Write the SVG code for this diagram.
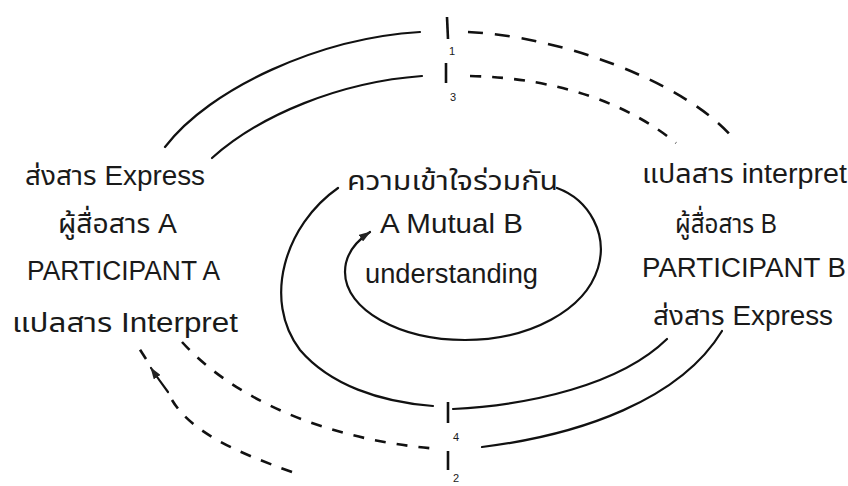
<svg xmlns="http://www.w3.org/2000/svg" width="848" height="486" viewBox="0 0 848 486">
  <defs>
    <style>
      .t { font-family: "Liberation Sans", "Noto Sans Thai", "Noto Sans", "DejaVu Sans", sans-serif; font-size: 27px; fill: #1a1a1a; text-anchor: start; }
      .num { font-family: "Liberation Sans", sans-serif; font-size: 11px; fill: #1a1a1a; }
      .line { fill: none; stroke: #111; stroke-width: 2.2; stroke-linecap: round; }
      .dash { fill: none; stroke: #111; stroke-width: 2.6; stroke-dasharray: 15 12; }
      .dash2 { fill: none; stroke: #111; stroke-width: 2.6; stroke-dasharray: 11 11; }
      .tick { stroke: #111; stroke-width: 2.6; }
    </style>
    <marker id="arrow" viewBox="0 0 12 8" refX="11" refY="4" markerWidth="12" markerHeight="8" markerUnits="userSpaceOnUse" orient="auto">
      <path d="M0,0 L12,4 L0,8 z" fill="#222"/>
    </marker>
  </defs>
  <rect width="848" height="486" fill="#ffffff"/>

  <!-- participant A -->
  <g id="participantA">
    <text class="t" x="25" y="185" textLength="180" lengthAdjust="spacingAndGlyphs">ส่งสาร Express</text>
    <text class="t" x="58" y="233" textLength="119" lengthAdjust="spacingAndGlyphs">ผู้สื่อสาร A</text>
    <text class="t" x="27" y="280" textLength="193" lengthAdjust="spacingAndGlyphs">PARTICIPANT A</text>
    <text class="t" x="12" y="332" textLength="226" lengthAdjust="spacingAndGlyphs">แปลสาร Interpret</text>
  </g>

  <!-- participant B -->
  <g id="participantB">
    <text class="t" x="642" y="183" textLength="205" lengthAdjust="spacingAndGlyphs">แปลสาร interpret</text>
    <text class="t" x="675" y="233" textLength="102" lengthAdjust="spacingAndGlyphs">ผู้สื่อสาร B</text>
    <text class="t" x="642" y="277" textLength="204" lengthAdjust="spacingAndGlyphs">PARTICIPANT B</text>
    <text class="t" x="653" y="325" textLength="180" lengthAdjust="spacingAndGlyphs">ส่งสาร Express</text>
  </g>

  <!-- mutual understanding -->
  <g id="mutual">
    <text class="t" x="347" y="190" textLength="211" lengthAdjust="spacingAndGlyphs">ความเข้าใจร่วมกัน</text>
    <text class="t" x="380" y="233" textLength="143" lengthAdjust="spacingAndGlyphs">A Mutual B</text>
    <text class="t" x="365" y="283" textLength="173" lengthAdjust="spacingAndGlyphs">understanding</text>
  </g>

  <!-- stage ticks -->
  <g id="ticks">
    <line class="tick" x1="447" y1="17" x2="448" y2="39"/>
    <text class="num" x="449" y="55">1</text>
    <line class="tick" x1="446" y1="63" x2="446" y2="83"/>
    <text class="num" x="450" y="101">3</text>
    <line class="tick" x1="448" y1="402" x2="448" y2="423"/>
    <text class="num" x="453" y="441">4</text>
    <line class="tick" x1="448" y1="451" x2="448" y2="470"/>
    <text class="num" x="453" y="482">2</text>
  </g>

  <!-- connectors -->
  <g id="connectors">
    <!-- upper outer loop -->
    <path class="line" d="M165,147 C210,88 320,38 420,32"/>
    <path class="dash" d="M468,32 C560,36 685,82 733,138"/>
    <!-- upper inner loop -->
    <path class="line" d="M212,158 C260,115 340,82 422,76"/>
    <path class="dash2" d="M470,76 C560,78 630,105 676,143"/>
    <!-- middle loop around the mutual understanding -->
    <path class="line" d="M338,188 C285,225 262,300 300,350 C330,385 380,402 433,406"/>
    <path class="line" d="M453,409 C530,405 620,385 667,339"/>
    <!-- inner spiral -->
    <path class="line" marker-end="url(#arrow)" d="M557,188 C590,200 608,235 598,268 C585,310 530,340 465,340 C400,340 345,310 345,272 C345,255 355,242 370,232"/>
    <!-- lower loops -->
    <path class="line" d="M482,447 C580,435 680,400 722,331"/>
    <path class="dash2" d="M182,342 C230,395 320,440 440,449"/>
    <path class="dash2" d="M292,472 C230,450 190,430 172,400"/>
    <path class="line" marker-end="url(#arrow)" d="M168,392 C162,384 157,377 151,368"/>
    <path class="dash2" d="M146,359 L137,345"/>
  </g>
</svg>
